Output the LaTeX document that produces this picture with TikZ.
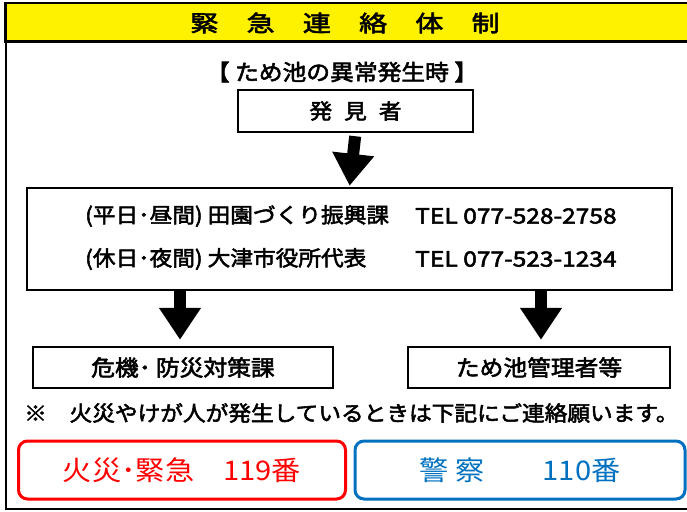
\documentclass[tikz,border=0pt]{standalone}
\usepackage{fontspec}
\setmainfont{Noto Sans CJK JP}[FakeStretch=1.08, FakeBold=2.5]
\newfontfamily\titlefont{Noto Sans CJK JP}[FakeStretch=1.25, FakeBold=2.5]
\newfontfamily\telfont{Noto Sans CJK JP}[FakeStretch=1.17, FakeBold=2.5]
\newfontfamily\callfont{Noto Sans CJK JP}[FakeStretch=1.08]
\usepackage{tikz}
\usetikzlibrary{arrows.meta}
\pgfdeclarelayer{edgelayer}
\pgfdeclarelayer{nodelayer}
\pgfsetlayers{edgelayer,nodelayer,main}
\definecolor{fireRed}{RGB}{255,0,0}
\definecolor{policeBlue}{RGB}{0,112,192}
\tikzset{
	box/.style={draw=black, line width=2.5pt, rectangle, inner sep=0pt},
	plain/.style={inner sep=0pt, font=\fontsize{21}{24}\selectfont},
	bigarrow/.style={line width=12pt, -{Triangle[width=40pt,length=32pt]}},
	callbox/.style={rectangle, rounded corners=9pt, line width=3pt, inner sep=0pt, minimum width=327pt, minimum height=58pt, font=\callfont\fontsize{27}{30}\selectfont}
}

\begin{document}
\begin{tikzpicture}[x=1pt, y=-1pt]
	\useasboundingbox (0,0) rectangle (687,511);
								\begin{pgfonlayer}{edgelayer}
									% outer frame and title band
									\draw [line width=2pt] (5.5,3) rectangle (700,509);
									\fill [yellow] (5.5,3) rectangle (700,41.5);
									\draw [line width=2.5pt] (5.5,3) rectangle (700,41.5);
								\end{pgfonlayer}
								\begin{pgfonlayer}{nodelayer}
									\node [style=plain, font=\titlefont\fontsize{22.5}{28}\selectfont] (0) at (345, 23) {緊　急　連　絡　体　制};
									\node [style=plain, font=\fontsize{22}{26}\selectfont] (1) at (342, 72) {【 ため池の異常発生時 】};
									\node [style=box, style=plain, minimum width=235pt, minimum height=42pt] (2) at (355.5, 111) {発\hspace{12pt}見\hspace{12pt}者};
									\node [style=box, minimum width=645pt, minimum height=102pt] (3) at (349.5, 239) {};
									\node [style=plain, anchor=west] (4) at (85, 216) {(平日･昼間) 田園づくり振興課};
									\node [style=plain, font=\telfont\fontsize{21}{24}\selectfont, anchor=west] (5) at (415, 216) {TEL 077-528-2758};
									\node [style=plain, anchor=west] (6) at (85, 259) {(休日･夜間) 大津市役所代表};
									\node [style=plain, font=\telfont\fontsize{21}{24}\selectfont, anchor=west] (7) at (415, 259) {TEL 077-523-1234};
									\node [style=box, style=plain, font=\fontsize{22}{26}\selectfont, minimum width=300pt, minimum height=41pt] (8) at (183, 367.5) {危機･ 防災対策課};
									\node [style=box, style=plain, font=\fontsize{22}{26}\selectfont, minimum width=262pt, minimum height=41pt] (9) at (539, 367.5) {ため池管理者等};
									\node [style=plain, anchor=west] (10) at (24, 413) {※　火災やけが人が発生しているときは下記にご連絡願います。};
									\node [style=callbox, draw=fireRed, text=fireRed] (11) at (182, 470) {火災･緊急　119番};
									\node [style=callbox, draw=policeBlue, text=policeBlue, minimum width=330pt] (12) at (520, 470) {警 察　　110番};
								\end{pgfonlayer}
								\begin{pgfonlayer}{edgelayer}
									\draw [style=bigarrow, shorten <=3pt, shorten >=1pt] (2.south) to (3.north);
									\draw [style=bigarrow, shorten >=6pt] ([xshift=-3pt]3.south -| 8.north) to ([xshift=-3pt]8.north);
									\draw [style=bigarrow, shorten >=6pt] ([xshift=2pt]3.south -| 9.north) to ([xshift=2pt]9.north);
								\end{pgfonlayer}
							\end{tikzpicture}
\end{document}
